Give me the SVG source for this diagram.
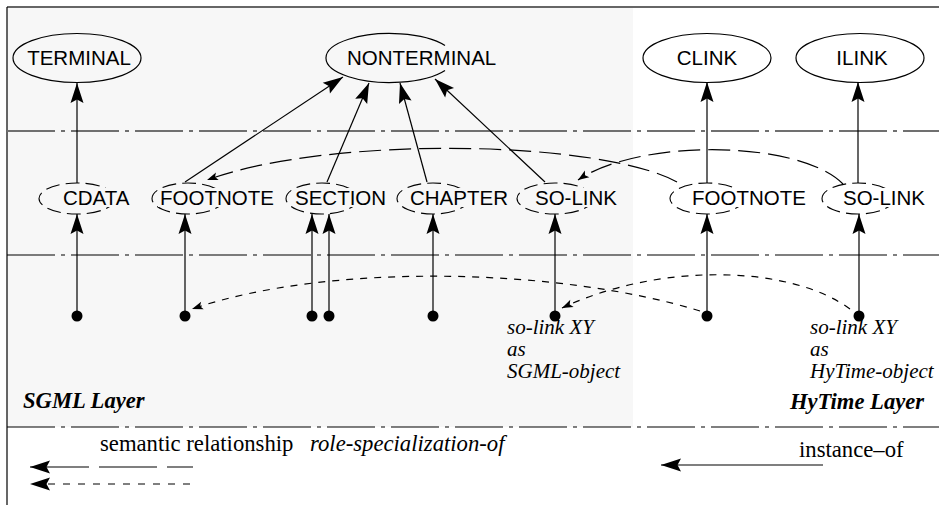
<svg xmlns="http://www.w3.org/2000/svg" width="939" height="505" viewBox="0 0 939 505">
<style>
.sans{font-family:"Liberation Sans",Arial,sans-serif;font-size:20.5px;fill:#000}
.bg{fill:#f7f7f7}
.bgW{fill:#fff}
.ser{font-family:"Liberation Serif","Times New Roman",serif;font-size:22.7px;fill:#000}
.it{font-family:"Liberation Serif","Times New Roman",serif;font-size:21px;font-style:italic;fill:#000}
.bi{font-family:"Liberation Serif","Times New Roman",serif;font-size:22.6px;font-style:italic;font-weight:bold;fill:#000}
.ell{fill:none;stroke:#000;stroke-width:1.2}
.dell{fill:none;stroke:#000;stroke-width:1.1;stroke-dasharray:14 6}
.dd{fill:none;stroke:#000;stroke-width:1.2;stroke-dasharray:48 6 4 6}
.edge{fill:none;stroke:#000;stroke-width:1.2}
.long{fill:none;stroke:#000;stroke-width:1.2;stroke-dasharray:22 8}
.short{fill:none;stroke:#000;stroke-width:1.2;stroke-dasharray:7 7}
.dot{fill:#000}
</style>
<defs>
<marker id="ah" markerUnits="userSpaceOnUse" markerWidth="24" markerHeight="16" viewBox="-21 -8 22 16" refX="0" refY="0" orient="auto">
<path d="M0,0 L-20,-6.5 L-16.5,0 L-20,6.5 Z" fill="#000"/>
</marker>
<marker id="sa" markerUnits="userSpaceOnUse" markerWidth="14" markerHeight="10" viewBox="-12 -5 13 10" refX="0" refY="0" orient="auto">
<path d="M0,0 L-11,-4 L-8.5,0 L-11,4 Z" fill="#000"/>
</marker>
</defs>

<rect x="7" y="7" width="626" height="420" fill="#f7f7f7"/>
<line x1="7" y1="7" x2="939" y2="7" stroke="#666" stroke-width="2"/>
<line x1="7" y1="7" x2="7" y2="505" stroke="#000" stroke-width="1.2"/>

<g id="layer-lines">
<line class="dd" x1="7" y1="131" x2="939" y2="131" style="stroke:#707070;stroke-width:2"/>
<line class="dd" x1="7" y1="255" x2="939" y2="255"/>
<line class="dd" x1="7" y1="427" x2="939" y2="427"/>
</g>

<g id="terminal">
<ellipse class="ell" cx="77" cy="58" rx="64" ry="24.5"/>
<text class="sans" x="79" y="65" text-anchor="middle">TERMINAL</text>
</g>
<g id="nonterminal">
<path class="ell" d="M445,45.5 A64,24.5 0 1 0 445,70.5"/>
<text class="sans" x="347" y="65">NONTERMINAL</text>
</g>
<g id="clink">
<ellipse class="ell" cx="707" cy="58" rx="64" ry="24.5"/>
<text class="sans" x="707" y="65" text-anchor="middle">CLINK</text>
</g>
<g id="ilink">
<ellipse class="ell" cx="860" cy="58" rx="64" ry="24.5"/>
<text class="sans" x="862" y="65" text-anchor="middle">ILINK</text>
</g>

<g id="cdata">
<ellipse class="dell" cx="77" cy="198.5" rx="38" ry="15.5"/>
<rect class="bg" x="61" y="188" width="73" height="19"/>
<text class="sans" x="63" y="205">CDATA</text>
</g>
<g id="footnote-sgml">
<ellipse class="dell" cx="188" cy="198.5" rx="36" ry="15.5"/>
<rect class="bg" x="158" y="188" width="118" height="19"/>
<text class="sans" x="160" y="205">FOOTNOTE</text>
</g>
<g id="section">
<ellipse class="dell" cx="322" cy="198.5" rx="36" ry="15.5"/>
<rect class="bg" x="293" y="188" width="95" height="19"/>
<text class="sans" x="295" y="205">SECTION</text>
</g>
<g id="chapter">
<ellipse class="dell" cx="433" cy="198.5" rx="36" ry="15.5"/>
<rect class="bg" x="408" y="188" width="102" height="19"/>
<text class="sans" x="410" y="205">CHAPTER</text>
</g>
<g id="solink-sgml">
<ellipse class="dell" cx="555" cy="198.5" rx="38" ry="15.5"/>
<rect class="bg" x="533" y="188" width="86" height="19"/>
<text class="sans" x="535" y="205">SO-LINK</text>
</g>
<g id="footnote-hytime">
<ellipse class="dell" cx="707" cy="198.5" rx="37" ry="15.5"/>
<rect class="bgW" x="690" y="188" width="118" height="19"/>
<text class="sans" x="692" y="205">FOOTNOTE</text>
</g>
<g id="solink-hytime">
<ellipse class="dell" cx="858" cy="198.5" rx="36" ry="15.5"/>
<rect class="bgW" x="841" y="188" width="86" height="19"/>
<text class="sans" x="843" y="205">SO-LINK</text>
</g>

<g id="instances">
<circle class="dot" cx="77" cy="316" r="5.5"/>
<circle class="dot" cx="185" cy="316" r="5.5"/>
<circle class="dot" cx="312" cy="316" r="5.5"/>
<circle class="dot" cx="329" cy="316" r="5.5"/>
<circle class="dot" cx="433" cy="316" r="5.5"/>
<circle class="dot" cx="555" cy="316" r="5.5"/>
<circle class="dot" cx="707" cy="316" r="5.5"/>
<circle class="dot" cx="859" cy="316" r="5.5"/>
</g>

<g id="connectors">
<line class="edge" x1="77" y1="183" x2="77" y2="83" marker-end="url(#ah)"/>
<line class="edge" x1="185" y1="182" x2="343" y2="77" marker-end="url(#ah)"/>
<line class="edge" x1="327" y1="182" x2="369" y2="83" marker-end="url(#ah)"/>
<line class="edge" x1="427" y1="182" x2="400" y2="83" marker-end="url(#ah)"/>
<line class="edge" x1="545" y1="182" x2="435" y2="79" marker-end="url(#ah)"/>
<line class="edge" x1="707" y1="183" x2="707" y2="82" marker-end="url(#ah)"/>
<line class="edge" x1="858" y1="183" x2="858" y2="82" marker-end="url(#ah)"/>

<line class="edge" x1="77" y1="316" x2="77" y2="214" marker-end="url(#ah)"/>
<line class="edge" x1="185" y1="316" x2="185" y2="214" marker-end="url(#ah)"/>
<line class="edge" x1="312" y1="316" x2="312" y2="214" marker-end="url(#ah)"/>
<line class="edge" x1="329" y1="316" x2="329" y2="214" marker-end="url(#ah)"/>
<line class="edge" x1="433" y1="316" x2="433" y2="214" marker-end="url(#ah)"/>
<line class="edge" x1="555" y1="316" x2="555" y2="214" marker-end="url(#ah)"/>
<line class="edge" x1="707" y1="316" x2="707" y2="214" marker-end="url(#ah)"/>
<line class="edge" x1="859" y1="316" x2="859" y2="214" marker-end="url(#ah)"/>

<path class="long" d="M677,182 C600,140 330,135 207,180" marker-end="url(#sa)"/>
<path class="long" d="M843,184 C800,140 640,138 578,180" marker-end="url(#sa)"/>
<path class="short" d="M700,311 C560,268 330,262 192,309" marker-end="url(#sa)"/>
<path class="short" d="M850,309 C790,265 660,262 562,308" marker-end="url(#sa)"/>
</g>

<g id="labels">
<text class="it" x="507" y="334">so-link XY</text>
<text class="it" x="507" y="356">as</text>
<text class="it" x="507" y="378">SGML-object</text>
<text class="it" x="810" y="334">so-link XY</text>
<text class="it" x="810" y="356">as</text>
<text class="it" x="810" y="378">HyTime-object</text>
<text class="bi" x="23" y="408">SGML Layer</text>
<text class="bi" x="790" y="409">HyTime Layer</text>
</g>

<g id="legend">
<path d="M193,467 L30,467" fill="none" stroke="#000" stroke-width="1.2" stroke-dasharray="26 10 58 10 80" marker-end="url(#ah)"/>
<path d="M190,484 L30,484" fill="none" stroke="#000" stroke-width="1.2" stroke-dasharray="7 8" marker-end="url(#ah)"/>
<text class="ser" x="100" y="451">semantic relationship</text>
<text class="ser" x="310" y="451" style="font-style:italic">role-specialization-of</text>
<path d="M823,465 L661,465" fill="none" stroke="#000" stroke-width="1.2" marker-end="url(#ah)"/>
<text class="ser" x="799" y="457">instance–of</text>
</g>
</svg>
